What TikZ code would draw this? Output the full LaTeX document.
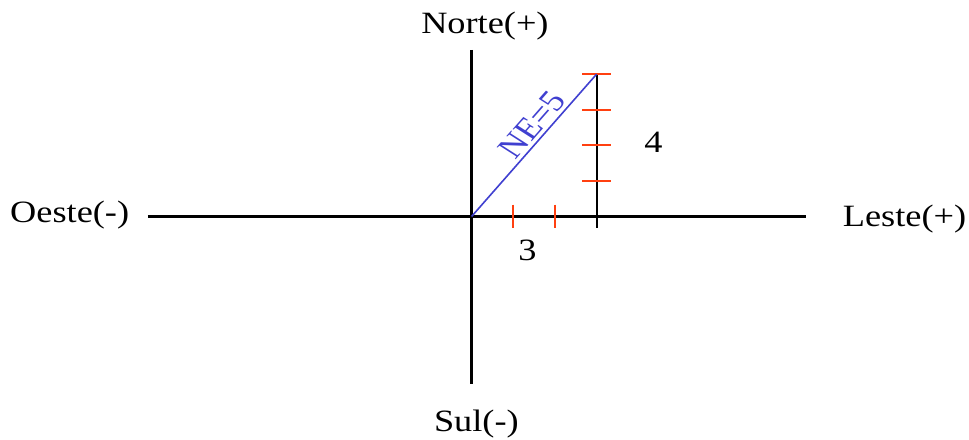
\documentclass[tikz,border=0pt]{standalone}
\usepackage{fontspec}
\setmainfont{Liberation Serif}
\definecolor{blue1}{RGB}{64, 64, 208}
\definecolor{red1}{RGB}{255, 64, 16}
\usetikzlibrary{positioning, calc}

\begin{document}
\begin{tikzpicture}[x=35.6pt, y=35.6pt, xscale=1.171,
  axis/.style={line width=2.2pt},
  tickmark/.style={draw=red1, line width=2.2pt},
  lbl/.style={font=\fontsize{31}{35}\selectfont, transform shape, inner sep=0pt}]
  \useasboundingbox (-11.31,-6.25) rectangle (11.93,6.08);
  % axes
  \coordinate (O) at (0,0);
  \coordinate (west) at (-7.76,0);
  \coordinate (east) at (8.02,0);
  \coordinate (north) at (0,4.68);
  \coordinate (south) at (0,-4.70);
  \coordinate (P) at (3,4);
  \coordinate (Pfoot) at (3,-0.33);
  \draw[axis] (west) -- (east);
  \draw[axis] (north) -- (south);
  \draw[axis] (P) -- (Pfoot);
  % ticks
  \foreach \i in {1,2,3,4} \draw[tickmark] (2.65,\i) -- (3.35,\i);
  \foreach \i in {1,2} \draw[tickmark] (\i,0.33) -- (\i,-0.33);
  % resultant
  \draw[blue1, line width=1.6pt] (O) -- (P);
  \node[lbl, text=blue1, rotate=53.13, anchor=south, inner sep=3pt] (ne) at ($(O)!0.585!(P)$) {NE=5};
  % labels
  \node[lbl, anchor=base] (norte) at (0.32,5.15) {Norte(+)};
  \node[lbl, anchor=base] (sul) at (0.115,-6.03) {Sul(-)};
  \node[lbl, anchor=base west] (oeste) at (-11.07,-0.18) {Oeste(-)};
  \node[lbl, anchor=base west] (leste) at (8.90,-0.295) {Leste(+)};
  \node[lbl] (tres) at (1.34,-0.95) {3};
  \node[lbl] (quatro) at (4.36,2.08) {4};
\end{tikzpicture}
\end{document}
